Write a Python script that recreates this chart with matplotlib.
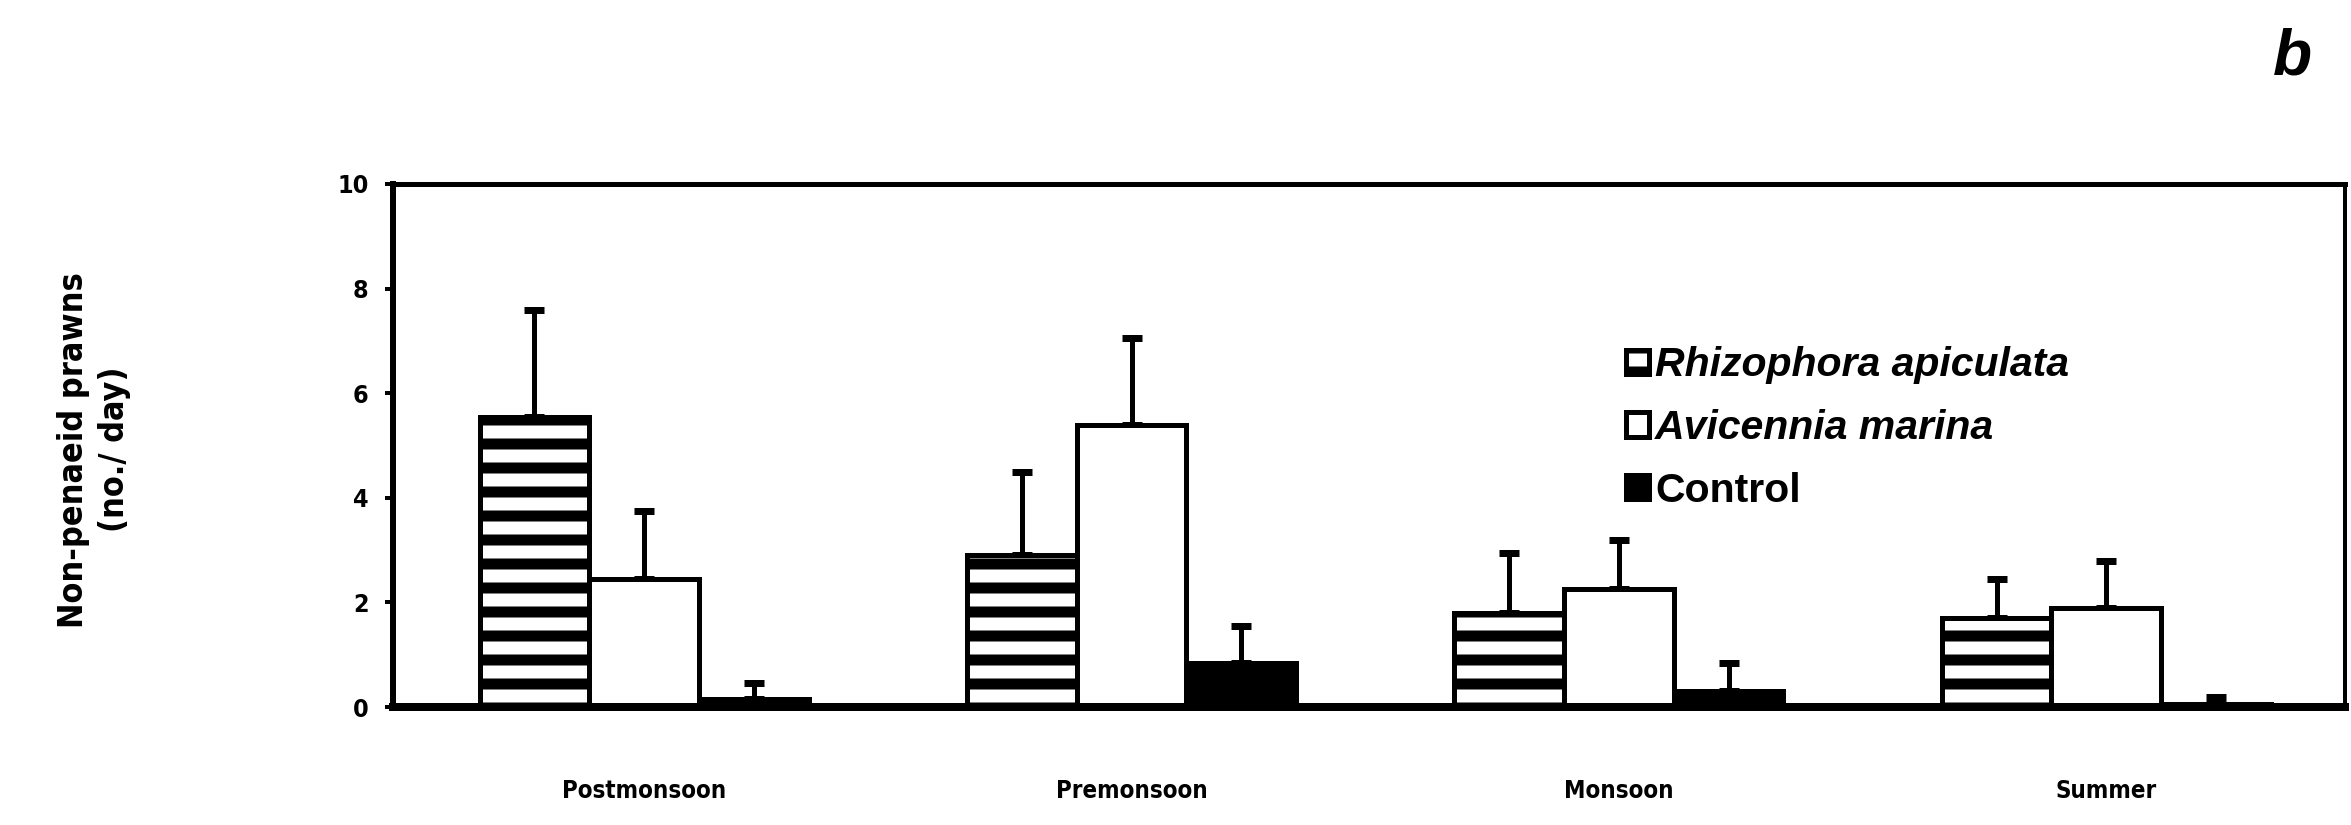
import numpy as np
import matplotlib
matplotlib.use('Agg')
import matplotlib.pyplot as plt

seasons = ['Postmonsoon', 'Premonsoon', 'Monsoon', 'Summer']
rhizophora = [5.55, 2.9, 1.8, 1.7]
rhizophora_err = [2.05, 1.6, 1.15, 0.75]
avicennia = [2.45, 5.4, 2.25, 1.9]
avicennia_err = [1.3, 1.65, 0.95, 0.9]
control = [0.15, 0.85, 0.3, 0.05]
control_err = [0.3, 0.7, 0.55, 0.15]

plt.rcParams['hatch.linewidth'] = 5.5

fig = plt.figure(figsize=(2351 / 144, 825 / 144), dpi=144)
ax = fig.add_axes([0.167, 0.143, 0.8305, 0.634])

x = np.arange(len(seasons))
w = 0.225
series = [
    (rhizophora, rhizophora_err, 'white', '-', 'Rhizophora apiculata'),
    (avicennia, avicennia_err, 'white', None, 'Avicennia marina'),
    (control, control_err, 'black', None, 'Control'),
]
for i, (vals, err, fc, hatch, lab) in enumerate(series):
    pos = x + (i - 1) * w
    ax.bar(pos, vals, w, color=fc, edgecolor='black', linewidth=2.5,
           hatch=hatch, label=lab, zorder=2)
    ax.errorbar(pos, vals, yerr=[np.zeros(len(vals)), err], fmt='none',
                ecolor='black', elinewidth=2.5, capsize=5, capthick=3.5, zorder=1)

# condensed bold, close to the narrow typeface of the original
cond = dict(family='DejaVu Sans', fontstretch='condensed', fontweight='bold')
ax.set_xlim(-0.516, 3.49)
ax.set_ylim(0, 10)
ax.set_yticks([0, 2, 4, 6, 8, 10])
ax.set_xticks(x)
ax.set_xticklabels(seasons, fontsize=12, **cond)
ax.tick_params(axis='x', length=0, pad=36)
ax.tick_params(axis='y', length=4, width=2, direction='out', pad=8)
for t in ax.get_yticklabels():
    t.set_family('DejaVu Sans')
    t.set_stretch('condensed')
    t.set_fontweight('bold')
    t.set_fontsize(12.5)

ax.spines['left'].set_linewidth(3)
ax.spines['bottom'].set_linewidth(4)
ax.spines['top'].set_linewidth(2.5)
ax.spines['right'].set_linewidth(2)

fig.text(0.04, 0.455, 'Non-penaeid prawns\n(no./ day)', rotation=90,
         ha='center', va='center', multialignment='center',
         fontsize=17, linespacing=1.3, **cond)

leg = ax.legend(loc='upper left', bbox_to_anchor=(0.683, 0.605),
                bbox_transform=fig.transFigure, frameon=False,
                handlelength=0.55, handleheight=0.55, handletextpad=0.15,
                labelspacing=0.6, borderpad=0,
                prop={'weight': 'bold', 'size': 20.5, 'family': 'Liberation Sans'})
for t in leg.get_texts()[:2]:
    t.set_style('italic')

fig.text(0.975, 0.93, 'b', ha='center', va='center', fontsize=32,
         fontweight='bold', style='italic', family='Liberation Sans')

fig.savefig('out.png', dpi=144)
